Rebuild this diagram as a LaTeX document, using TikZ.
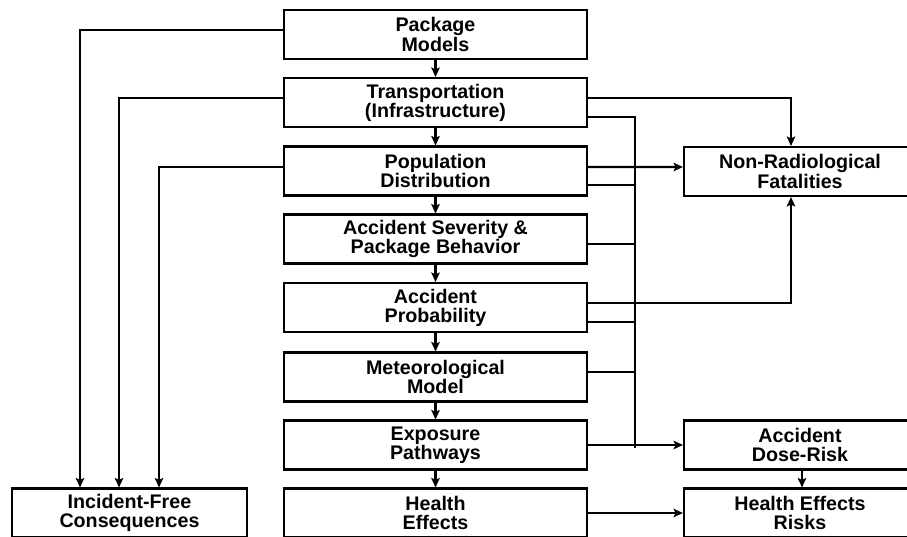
\documentclass[tikz,border=0pt]{standalone}
\usepackage{fontspec}
\setmainfont{Liberation Sans}
\usetikzlibrary{arrows.meta}

\begin{document}
\begin{tikzpicture}[
    x=0.02cm,y=-0.02cm,line width=1.15pt,
    box/.style={draw,black,align=center,inner sep=0pt,minimum height=0.98cm,
      font=\fontsize{11.2}{10.9}\selectfont\bfseries},
    midbox/.style={box,minimum width=6.06cm},
    sidebox/.style={box,minimum width=4.64cm},
    arr/.style={-{Stealth[length=0.19cm,width=0.17cm,inset=0.04cm]}}
    ]
    \useasboundingbox (0,0) rectangle (907,537);
    \clip (0,0) rectangle (907,537);
    % middle column
    \node[midbox] (pkg) at (435.5, 34.5) {Package\\Models};
    \node[midbox] (trn) at (435.5, 102.5) {Transportation\\(Infrastructure)};
    \node[midbox] (pop) at (435.5, 171) {Population\\Distribution};
    \node[midbox] (sev) at (435.5, 239) {Accident Severity \&\\Package Behavior};
    \node[midbox] (prb) at (435.5, 307.5) {Accident\\Probability};
    \node[midbox] (met) at (435.5, 377) {Meteorological\\Model};
    \node[midbox] (exp) at (435.5, 445) {Exposure\\Pathways};
    \node[midbox] (hlt) at (435.5, 513) {Health\\Effects};
    % side boxes
    \node[box,minimum width=4.70cm] (ifc) at (129.5, 513) {Incident-Free\\Consequences};
    \node[sidebox] (nrf) at (800, 171.5) {Non-Radiological\\Fatalities};
    \node[sidebox] (adr) at (800, 445) {Accident\\Dose-Risk};
    \node[sidebox] (her) at (800, 513) {Health Effects\\Risks};
    % ports and bus
    \coordinate (bus) at (635, 117);
    \coordinate (busend) at (635, 448);
    \coordinate (trnb) at ([yshift=-0.29cm]trn.east);
    \coordinate (popb) at ([yshift=-0.28cm]pop.east);
    \coordinate (sevb) at ([yshift=-0.10cm]sev.east);
    \coordinate (prbb) at ([yshift=-0.29cm]prb.east);
    \coordinate (metb) at ([yshift=0.10cm]met.east);
    % down the middle
    \draw[arr] (pkg) -- (trn);
    \draw[arr] (trn) -- (pop);
    \draw[arr] (pop) -- (sev);
    \draw[arr] (sev) -- (prb);
    \draw[arr] (prb) -- (met);
    \draw[arr] (met) -- (exp);
    \draw[arr] (exp) -- (hlt);
    % incident-free
    \draw[arr] ([yshift=0.09cm]pkg.west) -| ([xshift=-0.99cm]ifc.north);
    \draw[arr] ([yshift=0.09cm]trn.west) -| ([xshift=-0.21cm]ifc.north);
    \draw[arr] ([yshift=0.08cm]pop.west) -| ([xshift=0.59cm]ifc.north);
    % non-radiological
    \draw[arr] ([yshift=0.09cm]trn.east) -| ([xshift=-0.18cm]nrf.north);
    \draw[arr] ([yshift=0.08cm]pop.east) -- ([yshift=0.09cm]nrf.west);
    \draw[arr] ([yshift=0.09cm]prb.east) -| ([xshift=-0.18cm]nrf.south);
    % accident bus
    \draw (trnb) -| (busend);
    \draw (popb) -- (bus |- popb);
    \draw (sevb) -- (bus |- sevb);
    \draw (prbb) -- (bus |- prbb);
    \draw (metb) -- (bus |- metb);
    \draw[arr] (exp) -- (adr);
    \draw[arr] ([xshift=0.04cm]adr.south) -- ([xshift=0.04cm]her.north);
    \draw[arr] (hlt) -- (her);
  \end{tikzpicture}
\end{document}
